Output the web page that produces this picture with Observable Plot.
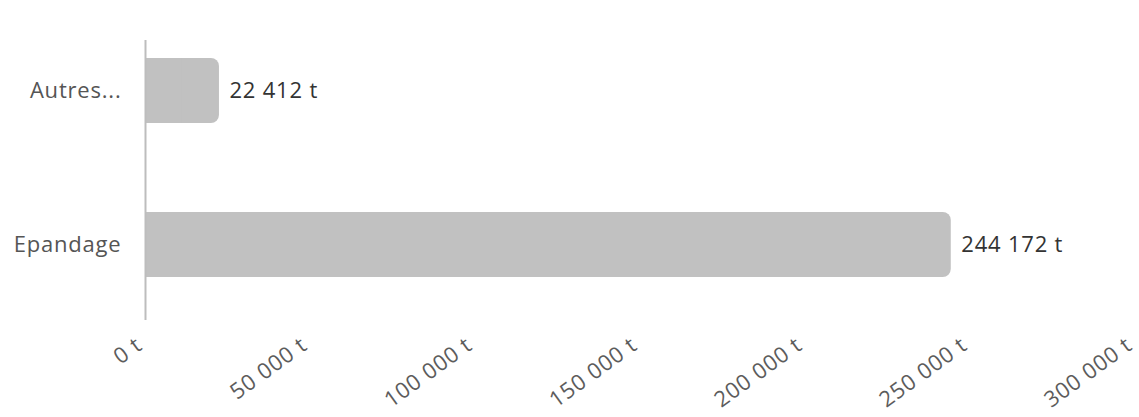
<!DOCTYPE html>
<html>
<head>
<meta charset="utf-8">
<script src="https://cdn.jsdelivr.net/npm/d3@7"></script>
<script src="https://cdn.jsdelivr.net/npm/@observablehq/plot@0.6"></script>
<style>
  html, body { margin: 0; padding: 0; background: #fff; }
  #chart svg { display: block; }
</style>
</head>
<body>
<div id="chart"></div>
<script>
const categories = ["Autres...", "Epandage"];
const values = [22412, 244172];
const xTicks = [0, 50000, 100000, 150000, 200000, 250000, 300000];

const data = categories.map((c, i) => ({category: c, value: values[i]}));
const fr = d3.formatLocale({decimal: ",", thousands: " ", grouping: [3], currency: ["", " €"]});
const fmt = v => fr.format(",d")(v) + " t";

const chart = Plot.plot({
  width: 1139,
  height: 417,
  marginLeft: 145,
  marginRight: 4,
  marginTop: 40,
  marginBottom: 97,
  style: {fontFamily: "'Open Sans', sans-serif", background: "#fff", letterSpacing: "0.8px"},
  x: {domain: [0, 300000], range: [145, 1135]},
  y: {domain: categories, range: [13, 321], paddingInner: 0.58, paddingOuter: 0.29},
  marks: [
    Plot.barX(data, {x: "value", y: "category", fill: "#c1c1c1", rx: 8}),
    Plot.barX(data, {x: d => d.value / 2, y: "category", fill: "#c1c1c1"}),
    Plot.ruleX([0], {stroke: "#bdbdbd", strokeWidth: 2}),
    Plot.text(data, {x: "value", y: "category", text: d => fmt(d.value), textAnchor: "start", dx: 10, fontSize: 22, fill: "#333"}),
    Plot.axisY({tickSize: 0, tickPadding: 24, fontSize: 22, color: "#555", label: null}),
    Plot.axisX({ticks: xTicks, tickFormat: fmt, tickSize: 0, tickPadding: 22, dx: -6, tickRotate: -36, fontSize: 22, color: "#5c5c5c", label: null})
  ]
});
document.getElementById("chart").appendChild(chart);
</script>
</body>
</html>
